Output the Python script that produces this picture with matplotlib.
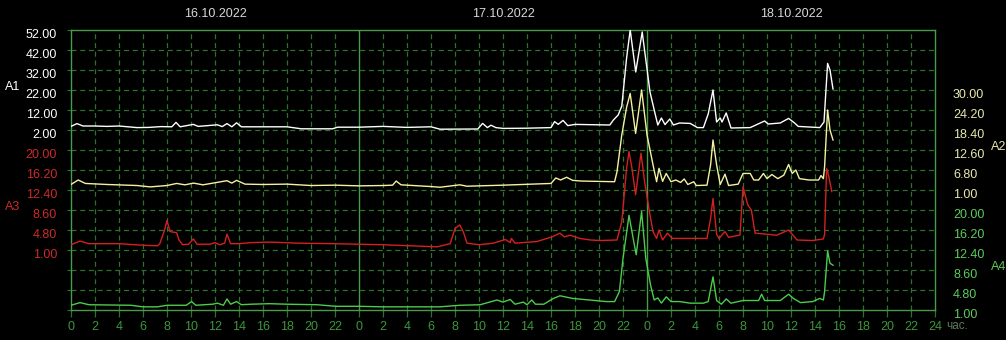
import numpy as np
import matplotlib
matplotlib.use("Agg")
import matplotlib.pyplot as plt
from matplotlib.transforms import ScaledTranslation, blended_transform_factory

plt.rcParams['font.family'] = ['Liberation Sans Narrow', 'Liberation Sans', 'DejaVu Sans']

# ---- data (hours from 16.10.2022 00:00) ----
days = ['16.10.2022', '17.10.2022', '18.10.2022']

a1_hours = [0, 0.5, 1.0, 2, 3, 4, 5.5, 6.5, 7.5, 8.4, 8.75, 9.1, 10.2, 10.6, 12.2, 12.6, 13.0,
            13.4, 13.8, 14.2, 16, 18, 19.2, 21.8, 22.2, 24, 26, 28, 30, 30.75, 33.9, 34.3, 34.7,
            35.0, 35.4, 36, 38, 40.0, 40.3, 40.6, 41.0, 41.4, 42, 44.9, 45.2, 45.6, 45.9, 46.3,
            46.6, 47.06, 47.6, 48.25, 48.7, 48.9, 49.2, 49.5, 49.9, 50.2, 50.7, 51.6, 52.2, 52.7,
            53.1, 53.5, 53.8, 54.1, 54.25, 54.6, 55.0, 56.6, 57.8, 58.1, 59.1, 59.8, 60.3, 60.6,
            62.4, 62.75, 63.05, 63.25, 63.5]
a1_values = [3.8, 5.2, 4.0, 4.0, 3.8, 4.0, 3.2, 3.3, 3.7, 3.6, 5.8, 3.6, 4.8, 3.8, 4.6, 3.7, 5.2,
             3.6, 5.6, 3.6, 3.6, 3.6, 2.6, 2.6, 3.4, 3.4, 3.8, 3.3, 3.6, 2.4, 2.5, 5.3, 3.2,
             4.4, 3.2, 2.8, 2.9, 3.2, 6.2, 4.8, 6.8, 4.2, 4.8, 4.5, 7.0, 9.5, 14, 38,
             52, 31, 51, 21, 9.5, 4.5, 8.0, 4.7, 7.5, 4.5, 5.5, 5.3, 3.2, 3.2,
             10, 22, 6, 8, 6, 10.5, 3.0, 3.2, 6.5, 5.0, 5.5, 7.8, 5.5, 3.8,
             3.2, 6, 35.3, 32, 22.5]

a2_hours = [0, 0.6, 1.2, 3, 5.5, 6.6, 8.0, 8.8, 9.5, 10.2, 11, 13.0, 13.4, 13.8, 14.5, 16, 18, 20,
            22, 24, 26, 26.8, 27.1, 27.5, 28.5, 30, 30.75, 32.4, 33, 36, 40.0, 40.4, 40.8, 41.3,
            41.8, 42.5, 45.3, 45.5, 45.9, 46.3, 46.6, 47.05, 47.55, 48.0, 48.5, 48.8, 49.0, 49.3,
            49.6, 50.0, 50.4, 50.8, 51.1, 51.4, 51.9, 52.1, 53.0, 53.3, 53.5, 53.8, 54.1, 54.5,
            54.8, 55.6, 56.0, 56.6, 56.9, 57.3, 57.7, 58.0, 58.4, 58.9, 59.4, 59.8, 60.1, 60.4,
            60.7, 61.5, 62.3, 62.5, 62.7, 62.8, 63.05, 63.25, 63.5]
a2_values = [2.6, 3.9, 2.9, 2.6, 2.3, 1.9, 2.3, 2.9, 2.5, 3.0, 2.5, 3.7, 3.0, 3.8, 2.7, 2.6, 2.7, 2.3,
             2.4, 2.2, 2.3, 2.4, 3.6, 2.5, 2.3, 2.0, 1.8, 2.5, 2.1, 2.4, 2.9, 4.5, 3.9, 4.7,
             3.8, 3.6, 3.4, 6.3, 17, 25, 29, 17.4, 30, 17, 8.3, 3.4, 7.3, 3.5,
             5.8, 3.4, 3.9, 3.2, 4.2, 2.6, 3.4, 2.3, 2.4, 8.3, 15.5, 8.3, 2.6, 5.6,
             2.3, 2.7, 5.8, 5.8, 3.9, 3.9, 5.8, 4.3, 5.5, 4.3, 5.3, 8.4, 5.8, 6.8,
             4.3, 3.9, 3.9, 5.2, 4.3, 7.8, 24.2, 18.4, 15.5]

a3_hours = [0, 0.75, 1.5, 4, 6, 7.2, 7.4, 7.8, 8.0, 8.25, 8.5, 8.8, 9.0, 9.3, 9.8, 10.2, 10.5, 11.6,
            12.0, 12.4, 12.8, 13.0, 13.3, 14, 15, 16.6, 19, 21.8, 26, 30.5, 31.6, 32.0, 32.4,
            32.7, 33.0, 34, 35.2, 36.2, 36.6, 36.7, 37.0, 38.8, 40.1, 40.75, 41.1, 41.6, 42.4,
            43.3, 44.1, 45.5, 45.9, 46.3, 46.5, 46.75, 47.05, 47.5, 47.8, 48.2, 48.5, 48.8, 49.0,
            49.3, 49.7, 50.1, 51, 53.0, 53.3, 53.5, 53.8, 54.0, 54.5, 54.8, 55.75, 56.0, 56.4,
            56.7, 57.0, 58.0, 58.8, 59.8, 60.5, 61.8, 62.7, 62.8, 62.97, 63.1, 63.4]
a3_values = [2.0, 2.7, 2.2, 2.2, 1.9, 1.8, 2.2, 4.8, 6.6, 4.5, 4.4, 4.3, 2.9, 2.0, 2.1, 3.1, 2.1, 2.1,
             2.4, 2.0, 2.3, 4.0, 2.2, 2.2, 2.4, 2.5, 2.3, 2.2, 2.0, 1.6, 2.2, 5.1, 5.75,
             4.4, 2.3, 2.0, 2.3, 3.0, 2.4, 3.2, 2.3, 2.6, 3.5, 4.2, 3.5, 3.8, 3.2,
             2.9, 2.8, 2.9, 6.4, 16.5, 19.7, 16.5, 11.5, 19.4, 14, 8.3, 4.5, 3.2, 4.8,
             2.9, 4.2, 3.2, 3.2, 3.2, 7, 10.8, 4.0, 3.2, 4.5, 3.4, 3.85, 13.0, 9.55,
             8.6, 4.2, 4.0, 3.8, 4.8, 2.9, 2.8, 3.1, 4.0, 16.5, 15.5, 12.1]

a4_hours = [0, 0.75, 1.5, 5, 6, 7.2, 8, 9.6, 10.05, 10.4, 11.8, 12.2, 12.7, 13.0, 13.3, 13.8, 14.2,
            15, 16.5, 18, 20.5, 22.1, 24, 26, 30, 30.75, 32.4, 34.1, 35.5, 36.0, 36.6, 37.0,
            37.7, 38.0, 38.4, 38.7, 39.4, 40.2, 40.75, 41.8, 43.2, 44.6, 45.3, 45.7, 46.0, 46.5,
            46.8, 47.1, 47.55, 47.9, 48.3, 48.6, 48.9, 49.2, 49.6, 50.0, 50.7, 51.6, 52.7, 53.1,
            53.5, 53.8, 54.2, 54.6, 55.0, 56.0, 57.3, 57.55, 57.8, 59.1, 59.8, 60.2, 60.8, 61.8,
            62.4, 62.7, 62.8, 63.05, 63.25, 63.5]
a4_values = [1.9, 2.4, 2.0, 1.9, 1.6, 1.6, 1.9, 1.9, 2.6, 1.9, 2.1, 2.3, 1.9, 3.1, 2.1, 2.6, 2.0,
             2.1, 2.2, 2.1, 2.0, 1.7, 1.7, 1.6, 1.6, 1.6, 1.9, 2.0, 2.9, 2.5, 3.0, 2.1,
             2.5, 2.0, 2.9, 2.1, 2.1, 3.2, 3.7, 3.2, 2.9, 2.6, 2.6, 4.5, 10.8, 19.0,
             15.2, 11.5, 19.7, 10.8, 5.7, 2.9, 3.3, 2.3, 3.5, 2.6, 2.6, 2.3, 2.3, 2.6,
             7.3, 2.8, 2.1, 3.1, 2.3, 2.8, 2.8, 4.0, 2.8, 2.8, 4.0, 3.2, 2.4, 2.6,
             3.2, 2.9, 4.5, 12.2, 9.9, 9.5]

# scale labels: (top value, bottom value)
a1_range = (52.0, 2.0)
a2_range = (30.0, 1.0)
a3_range = (20.0, 1.0)
a4_range = (20.0, 1.0)

# ---- style ----
bg = 'black'
grid_c = '#2c722c'
frame_c = '#4a9a4a'
xtick_c = '#3c963c'
n_rows = 14


def band_limits(rng, top_row, bottom_row):
    hi, lo = rng
    step = (hi - lo) / (bottom_row - top_row)
    return lo - (n_rows - bottom_row) * step, hi + top_row * step


fig = plt.figure(figsize=(10.06, 3.40), dpi=100, facecolor=bg)
ax = fig.add_axes([71 / 1006, 30 / 340, 864 / 1006, 280 / 340])
ax.set_facecolor(bg)
ax.set_xlim(0, 72)
ax.set_ylim(0, n_rows)

# grid
for r in range(1, n_rows):
    ax.axhline(r, color=grid_c, lw=0.9, ls=(0, (4, 3)), zorder=1)
for h in range(2, 72, 2):
    if h % 24 == 0:
        ax.axvline(h, color=frame_c, lw=1.0, zorder=1)
    else:
        ax.axvline(h, color=grid_c, lw=0.9, ls=(0, (4, 3)), zorder=1)
for s in ax.spines.values():
    s.set_color(frame_c)
    s.set_linewidth(1.0)

ax.set_xticks(range(0, 73, 2))
ax.set_xticklabels([str(h % 24) if h < 72 else '24' for h in range(0, 73, 2)])
ax.tick_params(axis='x', colors=grid_c, length=5, width=0.9, pad=3, labelsize=9,
               labelcolor=xtick_c)
ax.set_yticks(range(0, n_rows + 1))
ax.set_yticks(range(0, n_rows + 1), minor=True)
ax.tick_params(axis='y', which='major', left=True, right=False, length=3, color=grid_c,
               labelleft=False)
ax.tick_params(axis='y', which='minor', left=False, right=True, length=7, color=grid_c,
               labelright=False)

tr = blended_transform_factory(ax.transData, ax.transAxes)
for i, d in enumerate(days):
    ax.text(i * 24 + 12, 1 + 16 / 280, d, transform=tr, ha='center', va='center',
            color='#d8d8d8', fontsize=9)
ax.annotate('час.', xy=(72, 0), xycoords=tr, xytext=(11, -16), textcoords='offset pixels',
            ha='left', va='center', color='#5a7a5a', fontsize=8.5, annotation_clip=False)

series = [
    (a1_hours, a1_values, a1_range, 0, 5, 'white', 'white', 'left', 'A1'),
    (a2_hours, a2_values, a2_range, 3, 8, '#f2f2a0', '#e8e8b0', 'right', 'A2'),
    (a3_hours, a3_values, a3_range, 6, 11, '#d42020', '#cc2a2a', 'left', 'A3'),
    (a4_hours, a4_values, a4_range, 9, 14, '#4ccc4c', '#5ccc5c', 'right', 'A4'),
]

shift = ScaledTranslation(0, -3.5 / 100, fig.dpi_scale_trans)
for hours, vals, rng, top_row, bottom_row, lc, tc, side, name in series:
    tw = ax.twinx()
    tw.set_ylim(*band_limits(rng, top_row, bottom_row))
    tw.plot(hours, vals, color=lc, lw=1.0, zorder=3)
    for s in tw.spines.values():
        s.set_visible(False)
    ticks = np.linspace(rng[0], rng[1], 6)
    tw.set_yticks(ticks)
    tw.set_yticklabels([f'{t:.2f}' for t in ticks])
    if side == 'left':
        tw.yaxis.tick_left()
        tw.tick_params(axis='y', length=0, pad=10, labelsize=9, labelcolor=tc)
        fig.text(5 / 1006, 1 - (30 + 20 * (top_row + 2.85)) / 340, name, color=tc,
                 fontsize=9, ha='left', va='center')
    else:
        tw.yaxis.tick_right()
        tw.tick_params(axis='y', length=0, pad=13, labelsize=9, labelcolor=tc)
        fig.text(991 / 1006, 1 - (30 + 20 * (top_row + 2.85)) / 340, name, color=tc,
                 fontsize=9, ha='left', va='center')
    for lbl in tw.get_yticklabels():
        lbl.set_transform(lbl.get_transform() + shift)

fig.savefig('out.png', dpi=100, facecolor=bg)
plt.close(fig)
